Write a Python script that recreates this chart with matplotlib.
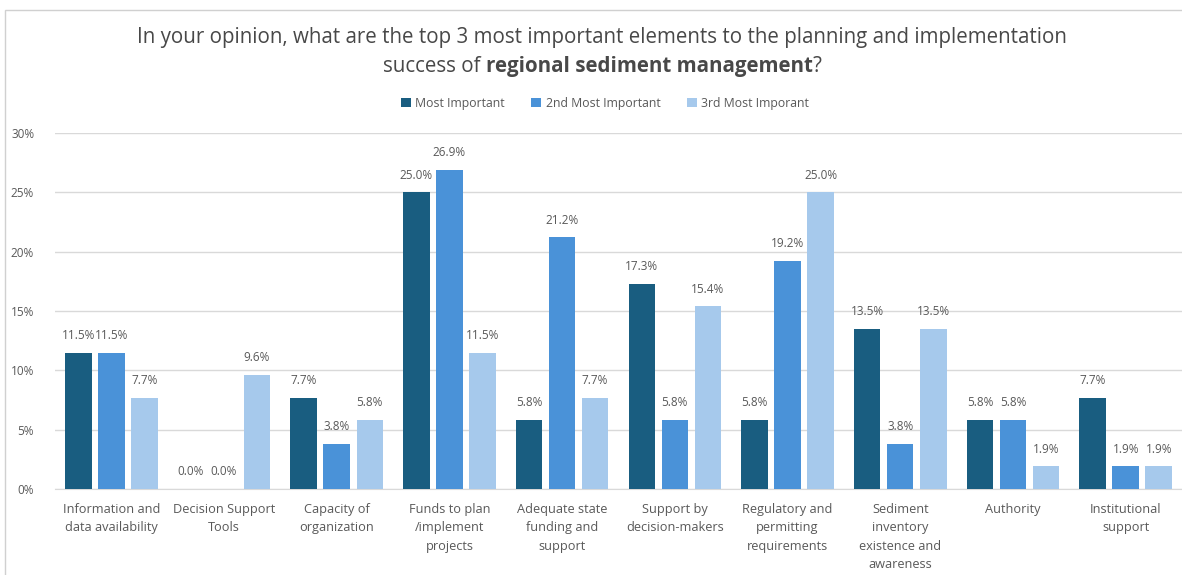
import numpy as np
import matplotlib
matplotlib.use("Agg")
import matplotlib.pyplot as plt
from matplotlib.patches import Rectangle

categories = [
    "Information and\ndata availability",
    "Decision Support\nTools",
    "Capacity of\norganization",
    "Funds to plan\n/implement\nprojects",
    "Adequate state\nfunding and\nsupport",
    "Support by\ndecision-makers",
    "Regulatory and\npermitting\nrequirements",
    "Sediment\ninventory\nexistence and\nawareness",
    "Authority",
    "Institutional\nsupport",
]
most_important = [11.5, 0.0, 7.7, 25.0, 5.8, 17.3, 5.8, 13.5, 5.8, 7.7]
second_most = [11.5, 0.0, 3.8, 26.9, 21.2, 5.8, 19.2, 3.8, 5.8, 1.9]
third_most = [7.7, 9.6, 5.8, 11.5, 7.7, 15.4, 25.0, 13.5, 1.9, 1.9]
series_names = ["Most Important", "2nd Most Important", "3rd Most Imporant"]
colors = ["#195d80", "#4a92d8", "#a6c9ec"]

plt.rcParams["font.family"] = ["Open Sans", "DejaVu Sans"]
TEXT = "#595959"
GRID = "#d9d9d9"

fig = plt.figure(figsize=(11.82, 5.75), dpi=100)
ax = fig.add_axes([0.0465, 0.1496, 0.9535, 0.6191])

x = np.arange(len(categories))
width = 0.235
offset = 0.293
for i, (vals, name) in enumerate(zip([most_important, second_most, third_most], series_names)):
    b = ax.bar(x + (i - 1) * offset, vals, width, color=colors[i], label=name, zorder=3)
    for rect, v in zip(b, vals):
        ax.text(rect.get_x() + rect.get_width() / 2, v + 0.9, f"{v:.1f}%",
                ha="center", va="bottom", fontsize=8.5, color=TEXT)

ax.set_xlim(-0.5, len(categories) - 0.5)
ax.set_ylim(0, 30)
ax.set_yticks(range(0, 31, 5))
ax.set_yticklabels([f"{t}%" for t in range(0, 31, 5)])
ax.yaxis.grid(True, color=GRID, linewidth=1, zorder=0)
ax.set_xticks(x)
ax.set_xticklabels(categories, fontsize=9.2, color=TEXT, linespacing=1.55, va="top")
ax.tick_params(axis="x", length=0, pad=10)
ax.tick_params(axis="y", length=0, pad=15, labelsize=8.5, labelcolor=TEXT)
for s in ["top", "right", "left"]:
    ax.spines[s].set_visible(False)
ax.spines["bottom"].set_color(GRID)

fig.legend(loc="center", bbox_to_anchor=(605 / 1182, 1 - 103 / 575), ncol=3, frameon=False,
           fontsize=8.8, handlelength=0.8, handleheight=0.8, handletextpad=0.35,
           columnspacing=2.2, labelcolor=TEXT)

# title: first line plain, second line mixes normal and bold runs
title_color = "#484848"
title_size = 14.8
title_cx = 602 / 1182
fig.text(title_cx, 1 - 38 / 575, "In your opinion, what are the top 3 most important elements to the planning and implementation",
         ha="center", va="center", fontsize=title_size, color=title_color)
pieces = [("success of ", "normal"), ("regional sediment management", "bold"), ("?", "normal")]
renderer = fig.canvas.get_renderer()
texts = [fig.text(0, 1 - 67 / 575, s, ha="left", va="center", fontsize=title_size,
                  fontweight=w, color=title_color) for s, w in pieces]
widths = [t.get_window_extent(renderer).width for t in texts]
xpos = title_cx * fig.bbox.width - sum(widths) / 2
for t, w in zip(texts, widths):
    t.set_x(xpos / fig.bbox.width)
    xpos += w

fig.patches.append(Rectangle((5 / 1182, -0.1), 1.2, 1 - 10 / 575 + 0.1, transform=fig.transFigure,
                             fill=False, edgecolor="#d0d0d0", linewidth=1))

fig.savefig("out.png", dpi=100)
